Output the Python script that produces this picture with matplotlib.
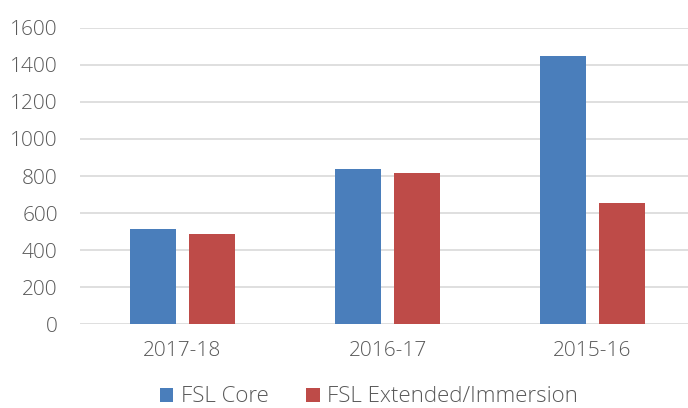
import numpy as np
import matplotlib.pyplot as plt

plt.rcParams.update({"font.family": ["Open Sans", "DejaVu Sans"], "font.size": 15,
                     "font.weight": "light"})

years = ["2017-18", "2016-17", "2015-16"]
fsl_core = [516, 840, 1450]
fsl_extended = [487, 816, 655]
y_ticks = [0, 200, 400, 600, 800, 1000, 1200, 1400, 1600]

blue = "#4A7EBB"
red = "#BE4B48"
text_gray = "#595959"

fig = plt.figure(figsize=(6.88, 4.08), dpi=100)
ax = fig.add_axes([80/688, (408-324.3)/408, 615/688, (324.3-27.7)/408])

x = np.arange(len(years))
w = 0.224
off = 0.144

ax.bar(x-off, fsl_core, width=w, color=blue, label="FSL Core", zorder=3)
ax.bar(x+off, fsl_extended, width=w, color=red, label="FSL Extended/Immersion", zorder=3)

ax.set_xlim(-0.5, 2.5)
ax.set_ylim(0, 1600)
ax.set_yticks(y_ticks)
ax.set_xticks(x)
ax.set_xticklabels(years)
ax.grid(axis="y", color="#d9d9d9", linewidth=1.2, zorder=0)
for s in ax.spines.values():
    s.set_visible(False)
ax.tick_params(length=0, colors=text_gray, labelsize=15)
ax.tick_params(axis="y", pad=16)
ax.tick_params(axis="x", pad=12)

fig.legend(loc="center", bbox_to_anchor=(369/688, 1-397/408), ncol=2, frameon=False,
           handlelength=0.6, handleheight=0.6, handletextpad=0.35, columnspacing=1.7,
           borderpad=0.2, labelcolor=text_gray, fontsize=16)

fig.savefig("out.png", dpi=100)
